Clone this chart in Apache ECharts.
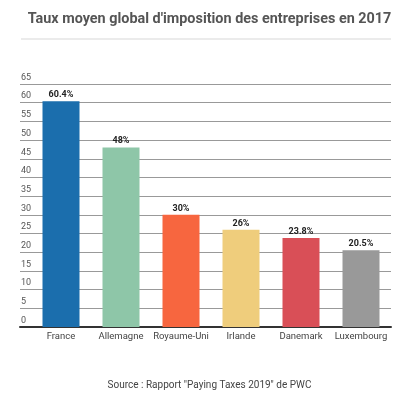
<!DOCTYPE html>
<html>
<head>
<meta charset="utf-8">
<script src="https://cdn.jsdelivr.net/npm/echarts@6/dist/echarts.min.js"></script>
<style>
  html, body { margin: 0; padding: 0; background: #fff; }
  #main { width: 419px; height: 396px; }
</style>
</head>
<body>
<div id="main"></div>
<script>
var pays = ['France', 'Allemagne', 'Royaume-Uni', 'Irlande', 'Danemark', 'Luxembourg'];
var taux = [60.4, 48, 30, 26, 23.8, 20.5];
var couleurs = ['#1b6ead', '#8ec6a8', '#f7663f', '#efcd7c', '#d94f57', '#999999'];
var titre = "Taux moyen global d'imposition des entreprises en 2017";
var source = 'Source : Rapport "Paying Taxes 2019" de PWC';

var myChart = echarts.init(document.getElementById('main'));

var option = {
    backgroundColor: '#fff',
    animation: false,
    title: [
        {
            text: titre,
            left: 'center',
            top: 7,
            textStyle: { fontFamily: 'Roboto', fontSize: 14.4, fontWeight: 'bold', color: '#555' }
        },
        {
            text: source,
            left: 'center',
            top: 375,
            textStyle: { fontFamily: 'Roboto', fontSize: 10, fontWeight: 'normal', color: '#444' }
        }
    ],
    graphic: [
        {
            type: 'rect',
            shape: { x: 21, y: 38, width: 370, height: 2 },
            style: { fill: '#ebebeb' }
        }
    ],
    grid: [
        { left: 20, right: 28, top: 84, bottom: 69 },
        { left: 31, right: 28, top: 84, bottom: 69 }
    ],
    xAxis: [
        {
            gridIndex: 0,
            type: 'value',
            min: 0, max: 1,
            axisLine: { show: true, lineStyle: { color: '#333', width: 2 } },
            axisTick: { show: false },
            axisLabel: { show: false },
            splitLine: { show: false }
        },
        {
            gridIndex: 1,
            type: 'category',
            data: pays,
            axisLine: { show: false },
            axisTick: { show: false },
            axisLabel: { interval: 0, fontFamily: 'Roboto', fontSize: 9.5, color: '#444', margin: 5 }
        }
    ],
    yAxis: [
        {
            gridIndex: 0,
            type: 'value',
            min: 0, max: 65, interval: 5,
            axisLine: { show: false },
            axisTick: { show: false },
            axisLabel: {
                fontFamily: 'Roboto', fontSize: 9, color: '#555',
                align: 'left', verticalAlign: 'bottom', margin: -1,
                padding: [0, 0, 2, 0]
            },
            splitLine: { lineStyle: { color: '#999', width: 1 } }
        },
        {
            gridIndex: 1,
            type: 'value',
            min: 0, max: 65, interval: 5,
            show: false
        }
    ],
    series: [
        {
            type: 'bar',
            xAxisIndex: 1,
            yAxisIndex: 1,
            barWidth: 37,
            data: taux.map(function (v, i) {
                return { value: v, itemStyle: { color: couleurs[i] } };
            }),
            label: {
                show: true,
                position: 'top',
                distance: 2,
                fontFamily: 'Roboto',
                fontSize: 9,
                fontWeight: 'bold',
                color: '#222',
                formatter: function (p) { return p.value + '%'; }
            }
        }
    ]
};

myChart.setOption(option);
</script>
</body>
</html>
